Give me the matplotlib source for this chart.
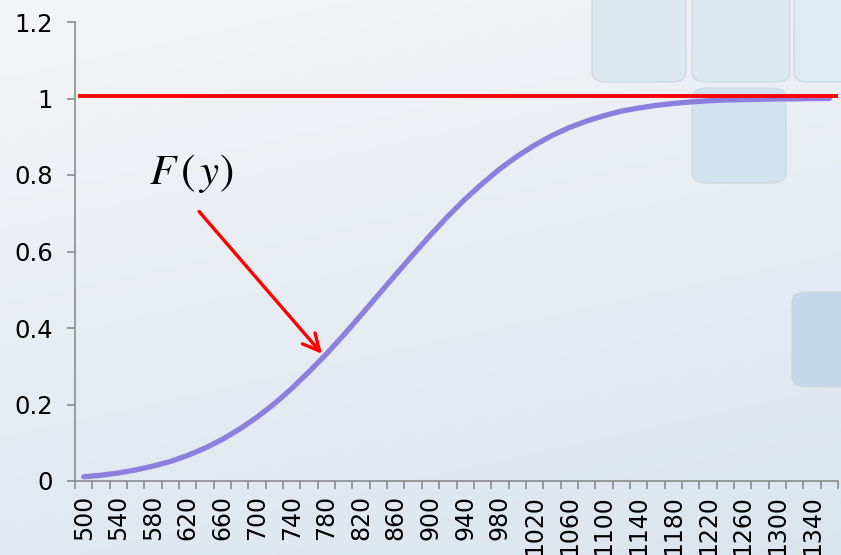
import matplotlib
matplotlib.use('Agg')
import matplotlib.pyplot as plt
import numpy as np
from matplotlib.patches import FancyBboxPatch

# categories (x values) and F(y)
y_vals = [500, 520, 540, 560, 580, 600, 620, 640, 660, 680, 700, 720, 740, 760,
          780, 800, 820, 840, 860, 880, 900, 920, 940, 960, 980, 1000, 1020, 1040,
          1060, 1080, 1100, 1120, 1140, 1160, 1180, 1200, 1220, 1240, 1260, 1280,
          1300, 1320, 1340, 1360]
F_vals = [0.011, 0.015, 0.021, 0.029, 0.039, 0.051, 0.067, 0.086, 0.109, 0.136,
          0.167, 0.202, 0.242, 0.286, 0.332, 0.382, 0.434, 0.487, 0.540, 0.592,
          0.643, 0.692, 0.737, 0.778, 0.816, 0.849, 0.878, 0.903, 0.924, 0.941,
          0.955, 0.967, 0.975, 0.982, 0.987, 0.991, 0.994, 0.996, 0.997, 0.998,
          0.999, 0.999, 1.000, 1.000]
ref_level = [1.0] * len(y_vals)
y_ticks = [0, 0.2, 0.4, 0.6, 0.8, 1, 1.2]
y_ticklabels = ['0', '0.2', '0.4', '0.6', '0.8', '1', '1.2']

plt.rcParams['mathtext.fontset'] = 'stix'

fig = plt.figure(figsize=(8.41, 5.55), dpi=100)

# background gradient
bg = fig.add_axes([0, 0, 1, 1], zorder=-10)
gy, gx = np.mgrid[0:1:200j, 0:1:200j]
top = np.array([0.955, 0.96, 0.965])
bot = np.array([0.86, 0.895, 0.935])
t = (0.75 * gy + 0.25 * gx)[..., None]
img = top * (1 - t) + bot * t
bg.imshow(img, extent=[0, 1, 0, 1], aspect='auto', origin='upper')
bg.set_xlim(0, 1)
bg.set_ylim(0, 1)
bg.axis('off')

# decorative rounded squares (pixel boxes: x0, y0, x1, y1 from top-left)
squares = [(592, -20, 686, 82, '#dde9f0'), (692, -20, 790, 82, '#dae8f0'),
           (794, -20, 860, 82, '#deebf1'), (692, 88, 786, 183, '#d2e3f0'),
           (792, 292, 860, 387, '#c5d7ec')]
for x0, y0, x1, y1, c in squares:
    p = FancyBboxPatch((x0 / 841, 1 - y1 / 555), (x1 - x0) / 841, (y1 - y0) / 555,
                       boxstyle='round,pad=0,rounding_size=0.018',
                       transform=fig.transFigure, facecolor=c,
                       edgecolor='#cdd6dc', linewidth=0.8, zorder=-5)
    fig.patches.append(p)

ax = fig.add_axes([75 / 841, 74 / 555, 763 / 841, 459 / 555])
ax.patch.set_alpha(0)

idx = np.arange(len(y_vals))
ax.plot(idx, F_vals, color='#8c7fde', linewidth=3.8, solid_capstyle='round', zorder=3)
ax.plot([idx[0] - 0.2, idx[-1] + 0.45], [ref_level[0] + 0.006, ref_level[-1] + 0.006],
        color='#ff0000', linewidth=2.8, zorder=4)

ax.set_xlim(-0.5, len(y_vals) - 0.5)
ax.set_ylim(0, 1.2)
ax.set_yticks(y_ticks)
ax.set_yticklabels(y_ticklabels, fontsize=17.5)
ax.set_xticks(idx[::2])
ax.set_xticklabels([str(v) for v in y_vals[::2]], rotation=90, fontsize=17)
ax.set_xticks(np.arange(len(y_vals) + 1) - 0.5, minor=True)
ax.tick_params(axis='x', which='major', length=0, pad=10)
ax.tick_params(axis='x', which='minor', length=6, width=1.2, color='#8c8c8c')
ax.tick_params(axis='y', length=6, width=1.2, color='#8c8c8c', pad=10)

for s in ['top', 'right']:
    ax.spines[s].set_visible(False)
for s in ['left', 'bottom']:
    ax.spines[s].set_color('#8c8c8c')
    ax.spines[s].set_linewidth(1.2)

ax.text(6.2, 0.805, r'$F\,(\,y)$', fontsize=31, ha='center', va='center', color='black')
ax.annotate('', xy=(13.85, F_vals[14] - 0.005), xytext=(6.55, 0.71),
            arrowprops=dict(arrowstyle='->', color='#ff0000', lw=2.4,
                            mutation_scale=30))

fig.savefig('out.png', dpi=100)
